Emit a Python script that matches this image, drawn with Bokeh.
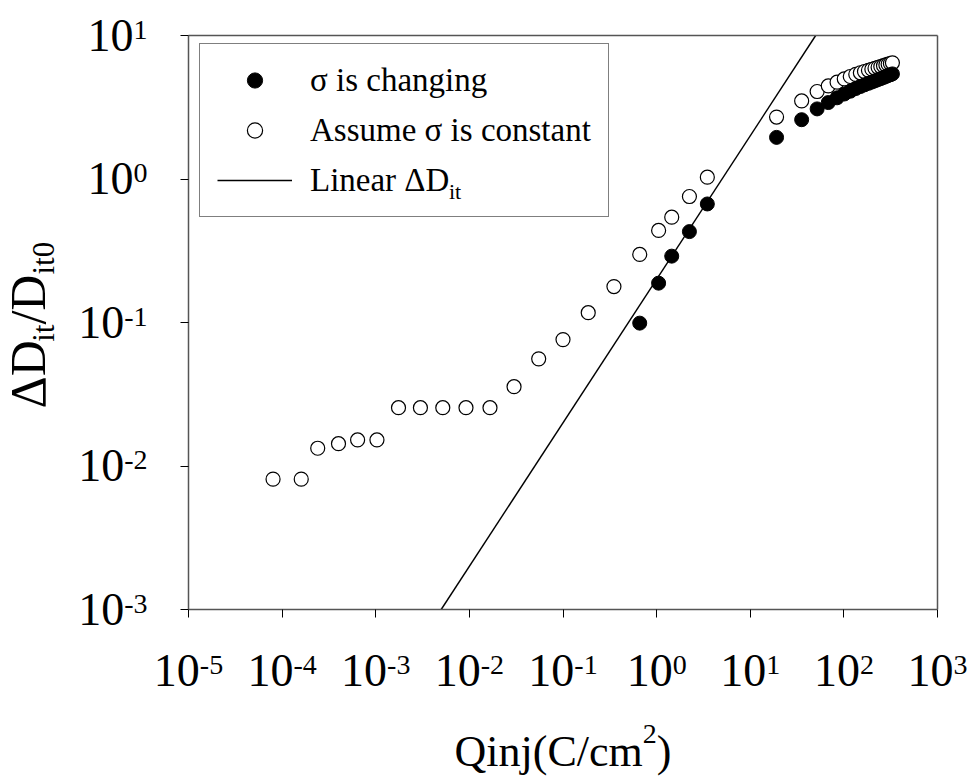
import math
from bokeh.plotting import figure
from bokeh.models import (Range1d, FixedTicker, CustomJSTickFormatter, Label,
                          Legend, LegendItem, LogAxis)
from bokeh.embed import file_html
from bokeh.resources import INLINE

# ---------------- data ----------------
q_changing = [0.66, 1.05, 1.45, 2.24, 3.48, 19.1, 35.4, 51.8, 68.2, 84.6, 101,
              117, 134, 150, 166, 183, 199, 215, 232, 248, 265, 281, 297, 314, 330]
d_changing = [0.099, 0.188, 0.29, 0.43, 0.67, 1.95, 2.59, 3.08, 3.41, 3.68, 3.91,
              4.09, 4.27, 4.41, 4.53, 4.64, 4.74, 4.83, 4.93, 5.01, 5.10, 5.18,
              5.26, 5.33, 5.40]

q_constant = [8.0e-5, 1.6e-4, 2.4e-4, 4.0e-4, 6.4e-4, 1.03e-3, 1.75e-3, 3.0e-3,
              5.2e-3, 9.2e-3, 1.66e-2, 3.0e-2, 5.5e-2, 0.10, 0.186, 0.35, 0.66,
              1.05, 1.45, 2.24, 3.48, 19.1, 35.4, 51.8, 68.2, 84.6, 101, 117, 134,
              150, 166, 183, 199, 215, 232, 248, 265, 281, 297, 314, 330]
d_constant = [0.0081, 0.0081, 0.0133, 0.0143, 0.0152, 0.0152, 0.0255, 0.0255,
              0.0255, 0.0255, 0.0255, 0.0357, 0.0558, 0.076, 0.117, 0.178, 0.298,
              0.438, 0.542, 0.755, 1.03, 2.70, 3.50, 4.07, 4.45, 4.73, 4.98, 5.18,
              5.36, 5.50, 5.61, 5.72, 5.82, 5.91, 6.00, 6.08, 6.16, 6.24, 6.31,
              6.38, 6.45]

q_linear = [0.005, 50.0]
d_linear = [0.001, 10.0]

x_tick_exps = [-5, -4, -3, -2, -1, 0, 1, 2, 3]
y_tick_exps = [-3, -2, -1, 0, 1]
x_tick_vals = [10.0 ** e for e in x_tick_exps]
y_tick_vals = [10.0 ** e for e in y_tick_exps]

legend_labels = ["\u03c3 is changing", "Assume \u03c3 is constant", "Linear \u0394D"]

# ---------------- layout (pixel box of the axes inside the canvas) ----------------
W, H = 971, 782
FL, FT, FW, FH = 188, 35, 749, 574
XL0, XL1 = -5, 3
YL0, YL1 = -3, 1
FONT = "Liberation Serif"
K = 0.337          # shift between the label anchor and the drawn baseline (x font size)
xs = (XL1 - XL0) / FW
ys = (YL1 - YL0) / FH

def xd(px):
    return 10 ** (XL0 + (px - FL) * xs)

def yd(py):
    return 10 ** (YL1 - (py - FT) * ys)

def ypx(e):
    return FT + (YL1 - e) / ys

ADV = {'\u0394': 0.612, 'D': 0.722, 'i': 0.278, 't': 0.278, '/': 0.278,
       '0': 0.5, '1': 0.5, '2': 0.5, '3': 0.5, '4': 0.5, '5': 0.5, '-': 0.333,
       'Q': 0.722, 'n': 0.5, 'j': 0.278, '(': 0.333, ')': 0.333, 'C': 0.667,
       'c': 0.444, 'm': 0.778, 'L': 0.611, 'e': 0.444, 'a': 0.444, 'r': 0.333,
       ' ': 0.25}

def tw(s, size):
    return sum(ADV[ch] for ch in s) * size

p = figure(width=W, height=H, x_axis_type="log", y_axis_type="log",
           x_range=Range1d(xd(0), xd(W)), y_range=Range1d(yd(H), yd(0)),
           output_backend="svg", toolbar_location=None, title_location=None,
           min_border=0)

p.xgrid.visible = False
p.ygrid.visible = False
p.outline_line_color = None
p.background_fill_color = "white"
p.border_fill_color = "white"

AX_COLOR = "#555555"

def style_axis(ax, ticks, tick_len):
    ax.ticker = FixedTicker(ticks=ticks, minor_ticks=[])
    ax.formatter = CustomJSTickFormatter(code="return '';")
    ax.major_tick_out = tick_len
    ax.major_tick_in = 0
    ax.minor_tick_out = 0
    ax.minor_tick_in = 0
    ax.axis_line_color = AX_COLOR
    ax.axis_line_width = 1.5
    ax.major_tick_line_color = "black"
    ax.major_tick_line_width = 1
    ax.axis_label = None

xax = p.xaxis[0]
style_axis(xax, x_tick_vals, 8)
xax.fixed_location = 10.0 ** YL0
xax.bounds = (10.0 ** XL0, 10.0 ** XL1)

yax = p.yaxis[0]
style_axis(yax, y_tick_vals, 8)
yax.fixed_location = 10.0 ** XL0
yax.bounds = (10.0 ** YL0, 10.0 ** YL1)

top_ax = LogAxis()
style_axis(top_ax, x_tick_vals, 0)
top_ax.fixed_location = 10.0 ** YL1
top_ax.bounds = (10.0 ** XL0, 10.0 ** XL1)
p.add_layout(top_ax, "above")

right_ax = LogAxis()
style_axis(right_ax, y_tick_vals, 0)
right_ax.fixed_location = 10.0 ** XL1
right_ax.bounds = (10.0 ** YL0, 10.0 ** YL1)
p.add_layout(right_ax, "right")

r_line = p.line(q_linear, d_linear, line_color="black", line_width=1.4)
r_open = p.scatter(q_constant, d_constant, size=14, marker="circle",
                   fill_color="white", line_color="black", line_width=1.2)
r_fill = p.scatter(q_changing, d_changing, size=14, marker="circle",
                   fill_color="black", line_color="black", line_width=1)

# ---------------- legend (added before the texts, transparent fill) ----------------
LF = 33
PAD, GW, GH, SP, STAND = 17, 75, 38, 12, 18
LEG_L, LEG_T = 199, 45
leg_h = 2 * PAD + 3 * GH + 2 * SP
legend = Legend(items=[LegendItem(label=legend_labels[0], renderers=[r_fill]),
                       LegendItem(label=legend_labels[1], renderers=[r_open]),
                       LegendItem(label=legend_labels[2], renderers=[r_line])],
                location=(LEG_L, H - LEG_T - leg_h), margin=0, padding=PAD,
                spacing=SP, glyph_width=GW, glyph_height=GH, label_height=GH,
                label_standoff=STAND, label_text_font=FONT,
                label_text_font_size=f"{LF}px", label_text_color="black",
                border_line_color="black", border_line_width=1,
                background_fill_color="white", background_fill_alpha=0)
p.add_layout(legend)

def lab(x, base_py, text, size, align="left", x_offset=0.0):
    """Horizontal text whose baseline lies at pixel row base_py."""
    p.add_layout(Label(x=x, y=yd(base_py - K * size), text=text,
                       x_offset=x_offset, text_font=FONT,
                       text_font_size=f"{size}px", text_align=align,
                       text_baseline="alphabetic", text_color="black",
                       level="overlay"))

def vlab(base_px, start_py, text, size):
    """Text rotated 90 degrees, reading upward, baseline at pixel column base_px."""
    p.add_layout(Label(x=xd(base_px - K * size), y=yd(start_py), text=text,
                       angle=math.pi / 2, text_font=FONT,
                       text_font_size=f"{size}px", text_align="left",
                       text_baseline="alphabetic", text_color="black",
                       level="overlay"))

# subscript of the legend's last entry
lx = LEG_L + PAD + GW + STAND + tw(legend_labels[2], LF) + 1
ly = LEG_T + PAD + 2 * (GH + SP) + GH / 2 + 17
lab(xd(lx), ly, "it", 22)

# ---------------- tick labels ----------------
TF, SF = 46, 28
for e, v in zip(x_tick_exps, x_tick_vals):
    sup = str(e)
    wtot = tw("10", TF) + tw(sup, SF)
    lab(v, 686, "10", TF, x_offset=-wtot / 2)
    lab(v, 674, sup, SF, x_offset=-wtot / 2 + tw("10", TF))

for e in y_tick_exps:
    sup = str(e)
    base = ypx(e) + 15.5
    lab(xd(147), base - 12, sup, SF, align="right")
    lab(xd(147 - tw(sup, SF)), base, "10", TF, align="right")

# ---------------- x axis title ----------------
XF, XS = 44, 28
t1, t2, t3 = "Qinj(C/cm", "2", ")"
wt = tw(t1, XF) + tw(t2, XS) + tw(t3, XF)
x0 = FL + FW / 2 - wt / 2
lab(xd(x0), 766, t1, XF)
lab(xd(x0 + tw(t1, XF)), 743, t2, XS)
lab(xd(x0 + tw(t1, XF) + tw(t2, XS)), 766, t3, XF)

# ---------------- y axis title (rotated) ----------------
YF, YS = 50, 31
pieces = [("\u0394D", YF, 44), ("it", YS, 53), ("/D", YF, 44), ("it0", YS, 53)]
ycur = 408
for txt, fs, bx in pieces:
    vlab(bx, ycur, txt, fs)
    ycur -= tw(txt, fs)

open("out.html", "w").write(file_html(p, INLINE))
